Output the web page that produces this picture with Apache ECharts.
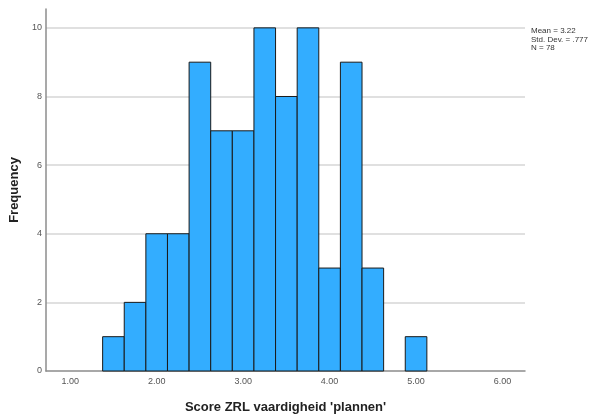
<!DOCTYPE html>
<html>
<head>
<meta charset="utf-8">
<script src="https://cdn.jsdelivr.net/npm/echarts@6/dist/echarts.min.js"></script>
<style>html,body{margin:0;padding:0;background:#fff}#c{width:596px;height:416px}</style>
</head>
<body>
<div id="c"></div>
<script>
// Histogram bins (lower and upper edges) and frequencies
var binLow  = [1.375, 1.625, 1.875, 2.125, 2.375, 2.625, 2.875, 3.125, 3.375, 3.625, 3.875, 4.125, 4.375, 4.625, 4.875];
var binHigh = [1.625, 1.875, 2.125, 2.375, 2.625, 2.875, 3.125, 3.375, 3.625, 3.875, 4.125, 4.375, 4.625, 4.875, 5.125];
var counts  = [1, 2, 4, 4, 9, 7, 7, 10, 8, 10, 3, 9, 3, 0, 1];
var xTickLabels = [1, 2, 3, 4, 5, 6];
var yTickLabels = [0, 2, 4, 6, 8, 10];
var statsLines = ['Mean = 3.22', 'Std. Dev. = .777', 'N = 78'];
var xTitle = "Score ZRL vaardigheid 'plannen'";
var yTitle = 'Frequency';

var data = binLow.map(function (lo, i) { return [lo, binHigh[i], counts[i]]; });

var chart = echarts.init(document.getElementById('c'), null, { renderer: 'canvas' });
chart.setOption({
  animation: false,
  backgroundColor: '#ffffff',
  textStyle: { fontFamily: 'Liberation Sans, Arial, sans-serif' },
  grid: { left: 46, right: 71, top: 9, bottom: 45, containLabel: false, outerBoundsMode: 'none' },
  xAxis: {
    type: 'value',
    min: 0.72, max: 6.26,
    name: xTitle,
    nameLocation: 'middle',
    nameGap: 30,
    nameTextStyle: { fontSize: 13, fontWeight: 'bold', color: '#222' },
    axisLine: { show: true, lineStyle: { color: '#8c8c8c', width: 1.5 } },
    axisTick: { show: false },
    splitLine: { show: false },
    axisLabel: {
      customValues: xTickLabels,
      formatter: function (v) { return v.toFixed(2); },
      fontSize: 9, color: '#555', margin: 6
    }
  },
  yAxis: {
    type: 'value',
    min: 0, max: 10.55,
    name: yTitle,
    nameLocation: 'middle',
    nameGap: 23,
    nameRotate: 90,
    nameTextStyle: { fontSize: 13, fontWeight: 'bold', color: '#222' },
    axisLine: { show: true, lineStyle: { color: '#8c8c8c', width: 1.5 } },
    axisTick: { show: false },
    axisLabel: { customValues: yTickLabels, fontSize: 9, color: '#555', margin: 4 },
    interval: 2,
    splitLine: { show: true, showMaxLine: false, showMinLine: false, lineStyle: { color: '#d6d6d6', width: 1.5 } }
  },
  series: [{
    type: 'custom',
    data: data,
    encode: { x: [0, 1], y: 2 },
    renderItem: function (params, api) {
      var c = api.value(2);
      if (!c) return null;
      var p0 = api.coord([api.value(0), c]);
      var p1 = api.coord([api.value(1), 0]);
      return {
        type: 'rect',
        shape: { x: p0[0], y: p0[1], width: p1[0] - p0[0], height: p1[1] - p0[1] },
        style: { fill: '#33adff', stroke: '#1a1a1a', lineWidth: 1 }
      };
    }
  }],
  graphic: [{
    type: 'text',
    left: 531, top: 27,
    style: {
      text: statsLines.join('\n'),
      font: '8px Liberation Sans, Arial, sans-serif',
      lineHeight: 8.5,
      fill: '#333'
    }
  }]
});
</script>
</body>
</html>
